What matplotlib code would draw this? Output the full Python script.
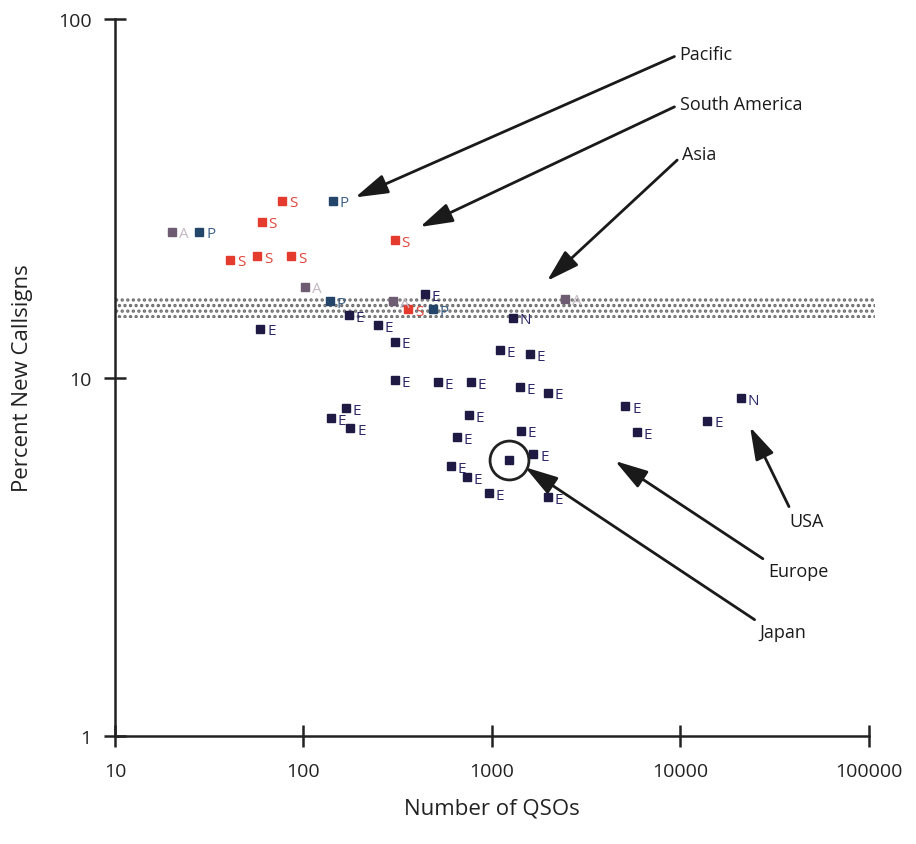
import matplotlib.pyplot as plt
from matplotlib.ticker import NullLocator

plt.rcParams['font.family'] = ['Open Sans', 'DejaVu Sans']
plt.rcParams['hatch.linewidth'] = 1.6

# data: (number of QSOs, percent new callsigns)
eu_qsos = [174, 248, 305, 59, 441, 1102, 1592, 305, 517, 774, 1409, 1982,
           168, 140, 177, 755, 652, 1426, 1652, 606, 736, 964, 1982,
           5083, 5875, 13840]
eu_pct = [14.9, 14.0, 12.6, 13.7, 17.1, 11.9, 11.6, 9.84, 9.71, 9.71, 9.40, 9.06,
          8.22, 7.71, 7.23, 7.85, 6.82, 7.10, 6.12, 5.66, 5.27, 4.76, 4.64,
          8.32, 7.05, 7.57]

na_qsos = [1291, 20950]
na_pct = [14.7, 8.77]

sa_qsos = [77, 60, 305, 41, 57, 86, 358]
sa_pct = [31.1, 27.2, 24.2, 21.3, 21.8, 21.8, 15.5]

pac_qsos = [143, 28, 138, 486]
pac_pct = [31.1, 25.5, 16.3, 15.5]

asia_qsos = [20, 102, 2438, 299]
asia_pct = [25.5, 17.9, 16.6, 16.3]

japan_qsos = [1230]
japan_pct = [5.89]

# Asia band
band_lo, band_hi = 14.7, 16.7

xticks = [10, 100, 1000, 10000, 100000]
yticks = [1, 10, 100]

fig = plt.figure(figsize=(9.16, 8.45), dpi=100)
ax = fig.add_axes([0.1255, 0.1278, 0.8232, 0.8485])

ax.set_xscale('log')
ax.set_yscale('log')
ax.set_xlim(10, 100000)
ax.set_ylim(1, 100)

# dotted band for Asia
ax.fill_between([10, 107000], band_lo, band_hi, facecolor='white',
                edgecolor='#6a6a6a', hatch='...', linewidth=0, clip_on=False, zorder=1)

groups = [
    (eu_qsos, eu_pct, 'E', '#1e1a44', '#2c2868'),
    (na_qsos, na_pct, 'N', '#1e1a44', '#2c2868'),
    (sa_qsos, sa_pct, 'S', '#e53a2e', '#e0453a'),
    (pac_qsos, pac_pct, 'P', '#24456a', '#3e6088'),
    (asia_qsos, asia_pct, 'A', '#6e5c72', '#c4b8c4'),
]
for xs, ys, lab, mcol, tcol in groups:
    ax.plot(xs, ys, linestyle='none', marker='s', ms=5.5, color=mcol, zorder=3)
    for x, y in zip(xs, ys):
        ax.annotate(lab, (x, y), xytext=(5, -1.5), textcoords='offset points',
                    ha='left', va='center', fontsize=11, color=tcol, zorder=4)

ax.plot(japan_qsos, japan_pct, linestyle='none', marker='s', ms=5.5, color='#1e1a44', zorder=3)
ax.plot(japan_qsos, japan_pct, linestyle='none', marker='o', ms=28, mfc='none',
        mec='#222222', mew=2, zorder=3)

arrow = dict(arrowstyle='-|>,head_length=1.0,head_width=0.3', color='#1a1a1a',
             lw=2, mutation_scale=20, shrinkA=2, shrinkB=0)
notes = [
    ('Pacific', (188, 31.8), (0.749, 0.951), (0, 0.5)),
    ('South America', (415, 26.3), (0.749, 0.881), (0, 0.5)),
    ('Asia', (1959, 18.6), (0.752, 0.812), (0, 0.4)),
    ('USA', (23390, 7.28), (0.895, 0.300), (0.05, 1)),
    ('Europe', (4497, 5.85), (0.866, 0.230), (0, 1)),
    ('Japan', (1497, 5.62), (0.855, 0.145), (0, 1)),
]
for txt, tip, pos, rel in notes:
    ax.annotate(txt, xy=tip, xytext=pos, textcoords='axes fraction',
                ha='left', va='center', fontsize=13, color='#1a1a1a',
                arrowprops=dict(arrow, relpos=rel))

for side in ['top', 'right']:
    ax.spines[side].set_visible(False)
for side in ['left', 'bottom']:
    ax.spines[side].set_linewidth(1.8)
    ax.spines[side].set_color('#222222')

ax.set_xticks(xticks)
ax.set_xticklabels([str(t) for t in xticks])
ax.set_yticks(yticks)
ax.set_yticklabels([str(t) for t in yticks])
ax.xaxis.set_minor_locator(NullLocator())
ax.yaxis.set_minor_locator(NullLocator())
ax.tick_params(direction='inout', length=16, width=1.8, color='#222222',
               labelsize=14, labelcolor='#222222')
ax.tick_params(axis='x', pad=11)
ax.tick_params(axis='y', pad=9)

ax.set_xlabel('Number of QSOs', fontsize=16, color='#222222', labelpad=12)
ax.set_ylabel('Percent New Callsigns', fontsize=16, color='#222222', labelpad=18)

fig.savefig('out.png', dpi=100)
